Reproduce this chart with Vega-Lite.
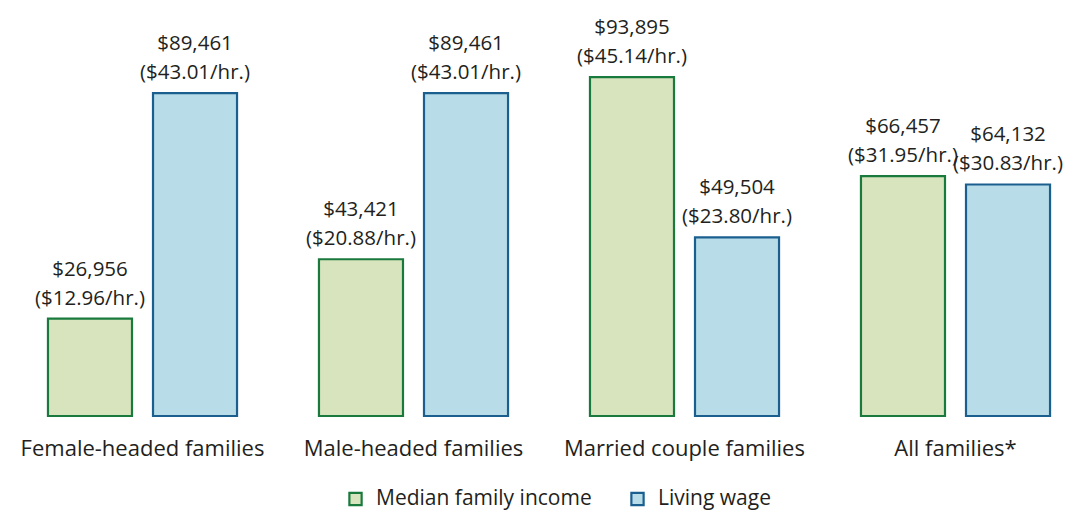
{
  "$schema": "https://vega.github.io/schema/vega-lite/v6.json",
  "width": 1066,
  "height": 361,
  "autosize": "none",
  "padding": {"left": 8, "top": 55, "right": 5, "bottom": 98},
  "background": "white",
  "config": {
    "view": {"stroke": null},
    "font": "Open Sans"
  },
  "data": {
    "values": [
      {"group": "Female-headed families", "series": "Median family income", "value": 26956, "line1": "$26,956", "line2": "($12.96/hr.)"},
      {"group": "Female-headed families", "series": "Living wage", "value": 89461, "line1": "$89,461", "line2": "($43.01/hr.)"},
      {"group": "Male-headed families", "series": "Median family income", "value": 43421, "line1": "$43,421", "line2": "($20.88/hr.)"},
      {"group": "Male-headed families", "series": "Living wage", "value": 89461, "line1": "$89,461", "line2": "($43.01/hr.)"},
      {"group": "Married couple families", "series": "Median family income", "value": 93895, "line1": "$93,895", "line2": "($45.14/hr.)"},
      {"group": "Married couple families", "series": "Living wage", "value": 49504, "line1": "$49,504", "line2": "($23.80/hr.)"},
      {"group": "All families*", "series": "Median family income", "value": 66457, "line1": "$66,457", "line2": "($31.95/hr.)"},
      {"group": "All families*", "series": "Living wage", "value": 64132, "line1": "$64,132", "line2": "($30.83/hr.)"}
    ]
  },
  "encoding": {
    "x": {
      "field": "group", "type": "nominal", "sort": null,
      "scale": {"range": [-1, 1083], "paddingInner": 0, "paddingOuter": 0},
      "axis": {"title": null, "labelAngle": 0, "ticks": false, "domain": false, "labelFontSize": 22, "labelColor": "#231f20", "labelPadding": 22, "labelFont": "Open Sans", "labelLimit": 0}
    },
    "xOffset": {"field": "series", "type": "nominal", "sort": ["Median family income", "Living wage"], "scale": {"paddingInner": 0.2, "paddingOuter": 0.39}},
    "y": {"field": "value", "type": "quantitative", "scale": {"domain": [0, 100000]}, "axis": null}
  },
  "layer": [
    {
      "mark": {"type": "bar", "strokeWidth": 2.2},
      "encoding": {
        "fill": {"field": "series", "type": "nominal", "sort": ["Median family income", "Living wage"],
          "scale": {"domain": ["Median family income", "Living wage"], "range": ["#d8e4bd", "#b8dde8"]},
          "legend": {"title": null, "orient": "none", "legendX": 337, "legendY": 433, "direction": "horizontal", "labelFontSize": 21, "labelColor": "#231f20", "symbolType": "square", "symbolSize": 150, "symbolStrokeWidth": 2.2, "labelOffset": 10, "columnPadding": 34, "labelFont": "Open Sans", "labelLimit": 0}},
        "stroke": {"field": "series", "type": "nominal", "sort": ["Median family income", "Living wage"],
          "scale": {"domain": ["Median family income", "Living wage"], "range": ["#1a7a3e", "#1a5f8e"]},
          "legend": {"title": null, "orient": "none", "legendX": 337, "legendY": 433, "direction": "horizontal", "labelFontSize": 21, "labelColor": "#231f20", "symbolType": "square", "symbolSize": 150, "symbolStrokeWidth": 2.2, "labelOffset": 10, "columnPadding": 34, "labelFont": "Open Sans", "labelLimit": 0}}
      }
    },
    {
      "mark": {"type": "text", "baseline": "middle", "dy": -49, "fontSize": 20.5, "color": "#231f20", "font": "Open Sans"},
      "encoding": {"text": {"field": "line1"}}
    },
    {
      "mark": {"type": "text", "baseline": "middle", "dy": -20, "fontSize": 20.5, "color": "#231f20", "font": "Open Sans"},
      "encoding": {"text": {"field": "line2"}}
    },
    {
      "mark": {"type": "rule", "color": "#c8c8c8", "strokeWidth": 1.5},
      "encoding": {"y": {"datum": 0}}
    }
  ]
}
